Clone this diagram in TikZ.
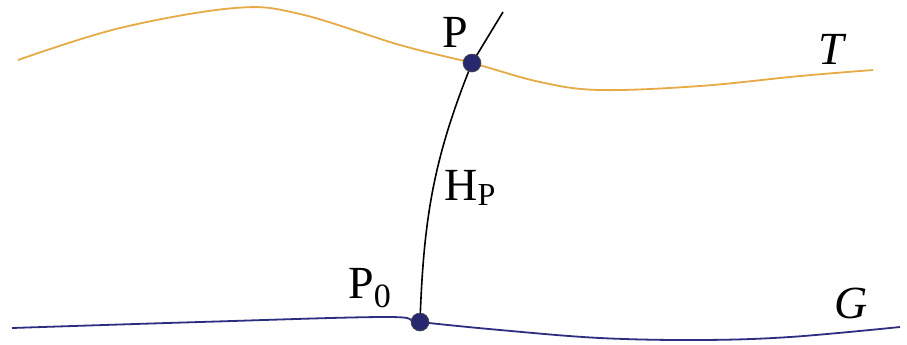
\documentclass[tikz,border=0pt]{standalone}
\usepackage{fontspec}
\setmainfont{Liberation Serif}
\definecolor{torange}{RGB}{230,170,70}
\definecolor{gblue}{RGB}{45,45,130}
\definecolor{dotblue}{RGB}{40,40,110}
\begin{document}
\begin{tikzpicture}[x=0.5pt,y=-0.5pt,
  lbl/.style={font=\fontsize{23}{27}\selectfont, inner sep=0pt},
  surfT/.style={torange, line width=0.9pt},
  surfG/.style={gblue, line width=0.9pt},
  plumb/.style={black, line width=0.8pt},
  pt/.style={circle, fill=dotblue, draw=black!70, line width=0.3pt, minimum size=9pt, inner sep=0pt}]
\useasboundingbox[fill=white] (0,0) rectangle (907,344);
\coordinate (P) at (472,63);
\coordinate (P0) at (420,322);
\coordinate (top) at (503,12);
\draw[surfT] plot[smooth, tension=0.6] coordinates {(18,60) (120,28) (235,8) (300,14) (400,45) (472,63) (540,82) (600,90) (700,86) (800,76) (873,70)};
\draw[surfG] plot[smooth, tension=0.6] coordinates {(12,328) (200,322) (385,317) (420,322) (500,330) (600,338) (700,340) (790,337) (900,327)};
\draw[plumb] (P0) to[out=88, in=-112] (P) -- (top);
\node[pt] (dP) at (P) {};
\node[pt] (dP0) at (P0) {};
\node[lbl, anchor=base west] (lP) at (442,47) {P};
\node[lbl, anchor=base west] (lH) at (444,200) {H\raisebox{-0.12em}{\fontsize{16}{18}\selectfont P}};
\node[lbl, anchor=base west] (lP0) at (348,298) {P\raisebox{-0.2em}{\fontsize{17}{19}\selectfont 0}};
\node[lbl, anchor=base west] (lT) at (818,64) {\itshape T};
\node[lbl, anchor=base west] (lG) at (834,318) {\itshape G};
\end{tikzpicture}
\end{document}
